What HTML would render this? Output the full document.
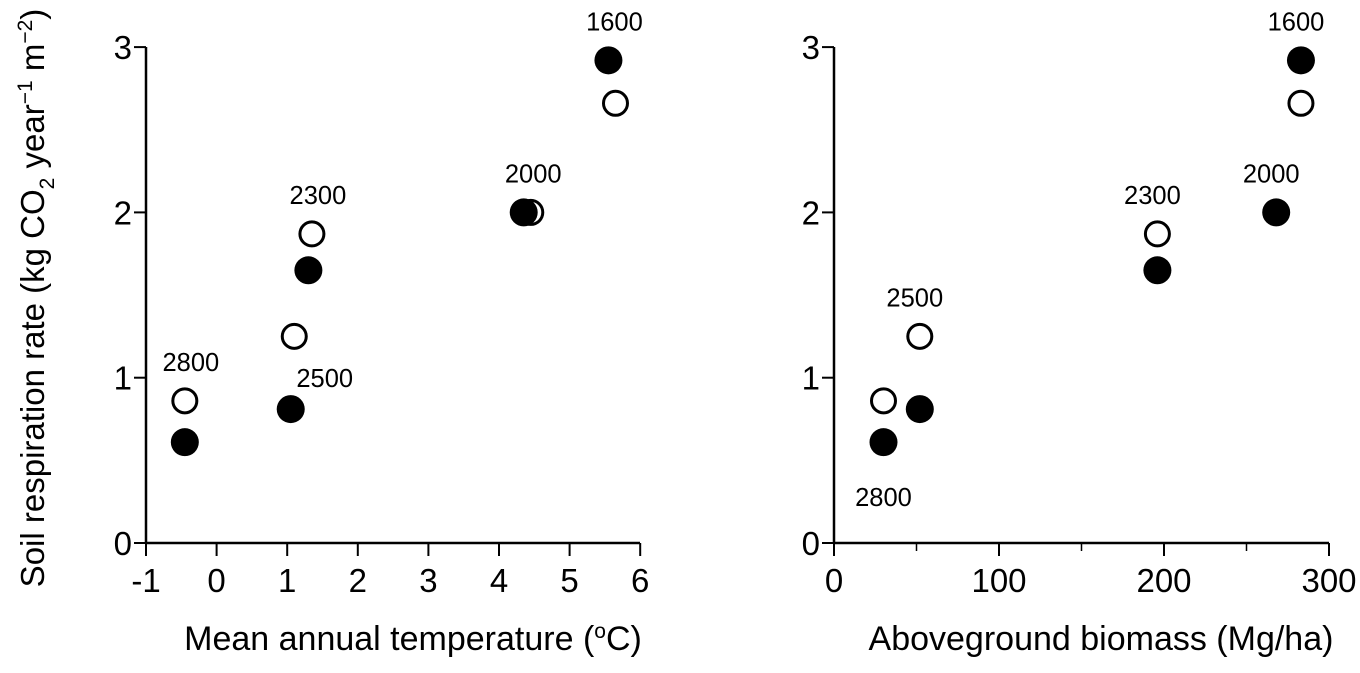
<!DOCTYPE html>
<html><head><meta charset="utf-8"><style>
body{margin:0;background:#fff;}
svg text{font-family:"Liberation Sans",Arial,sans-serif;fill:#000;}
</style></head><body>
<svg id="c" width="1360" height="668" xmlns="http://www.w3.org/2000/svg"></svg>
<script>
const tempOpen=[-0.45,1.1,1.35,4.45,5.65];
const respOpenT=[0.86,1.25,1.87,2.0,2.66];
const tempFilled=[-0.45,1.05,1.3,4.35,5.55];
const respFilledT=[0.61,0.81,1.65,2.0,2.92];
const bioOpen=[30,52,196,268,283];
const respOpenB=[0.86,1.25,1.87,2.0,2.66];
const bioFilled=[30,52,196,268,283];
const respFilledB=[0.61,0.81,1.65,2.0,2.92];
const leftXTicks=[-1,0,1,2,3,4,5,6];
const rightXTicks=[0,100,200,300];
const yTicks=[0,1,2,3];
const leftLabels=[["2800",-0.45,0.86],["2500",1.05,0.81],["2300",1.35,1.87],["2000",4.4,2.0],["1600",5.55,2.92]];
const rightLabels=[["2800",30,0.61,-1],["2500",52,1.25,1],["2300",196,1.87,1],["2000",268,2.0,1],["1600",283,2.92,1]];

const NS="http://www.w3.org/2000/svg";
const svg=document.getElementById('c');
function mk(t,a,p){const e=document.createElementNS(NS,t);for(const k in a)e.setAttribute(k,a[k]);(p||svg).appendChild(e);return e;}
const yS=v=>543-v*165.3;
const xL=v=>146+(v+1)*70.6;
const xR=v=>834+v*1.65;

function axes(xs,x0,x1,xticks,minor,g){
  let l=mk('line',{x1:x0,y1:47,x2:x0,y2:543,stroke:'#000','stroke-width':2.5},g);
  
  l=mk('line',{x1:x0,y1:543,x2:x1,y2:543,stroke:'#000','stroke-width':2.5},g);
  
  yTicks.forEach(v=>{
    mk('line',{x1:x0-12,y1:yS(v),x2:x0,y2:yS(v),stroke:'#000','stroke-width':2},g);
    const t=mk('text',{x:x0-14,y:yS(v)+12,'font-size':33,'text-anchor':'end'},g);t.textContent=v;
    
  });
  xticks.forEach(v=>{
    mk('line',{x1:xs(v),y1:543,x2:xs(v),y2:556,stroke:'#000','stroke-width':2},g);
    const t=mk('text',{x:xs(v),y:592,'font-size':33,'text-anchor':'middle'},g);t.textContent=v;
    
  });
  minor.forEach(v=>{mk('line',{x1:xs(v),y1:543,x2:xs(v),y2:551,stroke:'#000','stroke-width':1.5},g);});
}
function pts(xs,xa,ya,filled,name,g){
  xa.forEach((x,i)=>{
    const c=mk('circle',{cx:xs(x),cy:yS(ya[i]),r:filled?14:12,fill:filled?'#000':'#fff',stroke:'#000','stroke-width':filled?0:3},g);
    
  });
}
const gl=mk('g',{});
axes(xL,146,640,leftXTicks,[],gl);
pts(xL,tempOpen,respOpenT,false,'open-point',gl);
pts(xL,tempFilled,respFilledT,true,'filled-point',gl);
leftLabels.forEach(([s,x,y])=>{const t=mk('text',{x:xL(x)+(s==='2500'?34:6),y:yS(y)-(s==='2500'?22:30),'font-size':25.5,'text-anchor':'middle'},gl);t.textContent=s;});
const gr=mk('g',{});
axes(xR,834,1329,rightXTicks,[50,150,250],gr);
pts(xR,bioOpen,respOpenB,false,'open-point',gr);
pts(xR,bioFilled,respFilledB,true,'filled-point',gr);
rightLabels.forEach(([s,x,y,d])=>{const t=mk('text',{x:xR(x)-(s==='2800'?0:5),y:d<0?yS(y)+64:yS(y)-30,'font-size':25.5,'text-anchor':'middle'},gr);t.textContent=s;});
</script>
<div style="position:absolute;left:0;top:0;width:1360px;height:668px;pointer-events:none">
<svg width="1360" height="668" xmlns="http://www.w3.org/2000/svg" style="position:absolute;left:0;top:0">
<text x="413" y="650" font-size="34" text-anchor="middle">Mean annual temperature (<tspan dy="-12" font-size="21">o</tspan><tspan dy="12">C)</tspan></text>
<text x="1101" y="650" font-size="34" text-anchor="middle">Aboveground biomass (Mg/ha)</text>
<text transform="translate(44,298) rotate(-90)" font-size="33" text-anchor="middle">Soil respiration rate (kg CO<tspan dy="10" font-size="21">2</tspan><tspan dy="-10"> year</tspan><tspan dy="-12" font-size="21">−1</tspan><tspan dy="12"> m</tspan><tspan dy="-12" font-size="21">−2</tspan><tspan dy="12">)</tspan></text>
</svg></div>
</body></html>
